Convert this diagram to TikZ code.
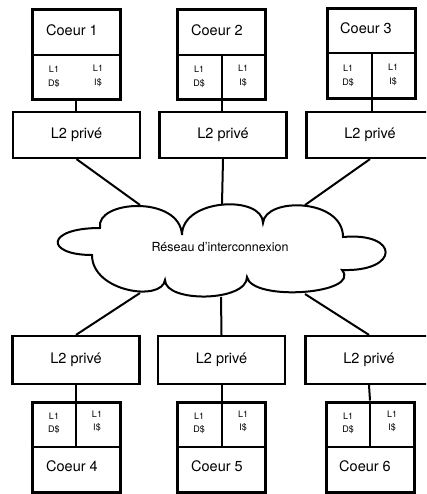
\documentclass[tikz,border=0pt]{standalone}
\usepackage{fontspec}
\setmainfont{TeX Gyre Heros}
\begin{document}
\begin{tikzpicture}[x=1pt,y=-1pt,
  core/.style={draw, line width=3pt, minimum width=88pt, minimum height=90pt, inner sep=0pt},
  l2box/.style={draw, line width=2.2pt, minimum width=127pt, minimum height=46pt, inner sep=0pt, font=\fontsize{14.5}{16}\selectfont},
  lab/.style={inner sep=0pt, font=\fontsize{14.5}{16}\selectfont},
  small/.style={inner sep=0pt, font=\fontsize{9}{10}\selectfont},
  netlab/.style={inner sep=0pt, font=\fontsize{12.5}{14}\selectfont},
  link/.style={line width=2pt},
  divline/.style={line width=2pt},
  cloudline/.style={line width=2pt, fill=white}]
\clip (0,0) rectangle (426,494);

% ---------- top cores ----------
\node[core] (c1) at (76,55) {};
\node[core] (c2) at (221.5,55) {};
\node[core] (c3) at (371,54) {};
\draw[divline] (c1.west |- 0,55) -- (c1.east |- 0,55);
\draw[divline] (c2.west |- 0,55) -- (c2.east |- 0,55);
\draw[divline] (c3.west |- 0,53) -- (c3.east |- 0,53);
\draw[divline] (222,55) -- (222,100);
\draw[divline] (372,53) -- (372,99);

\node[lab] (t1) at (72,30) {Coeur 1};
\node[lab] (t2) at (217,30) {Coeur 2};
\node[lab] (t3) at (366,28) {Coeur 3};

\node[small] (c1dl) at (54,69) {L1};
\node[small] (c1dd) at (54,84) {D\$};
\node[small] (c1il) at (98,68) {L1};
\node[small] (c1ii) at (98,83) {I\$};
\node[small] (c2dl) at (199,69) {L1};
\node[small] (c2dd) at (199,84) {D\$};
\node[small] (c2il) at (243,68) {L1};
\node[small] (c2ii) at (243,83) {I\$};
\node[small] (c3dl) at (348,68) {L1};
\node[small] (c3dd) at (348,83) {D\$};
\node[small] (c3il) at (393,67) {L1};
\node[small] (c3ii) at (393,82) {I\$};

% ---------- top L2 ----------
\node[l2box] (l2a) at (76.5,135) {L2 privé};
\node[l2box] (l2b) at (223,135) {L2 privé};
\node[l2box] (l2c) at (370,135) {L2 privé};

\draw[link] (c1.south) -- (c1.south |- l2a.north);
\draw[link] (222,100) -- (222,112);
\draw[link] (372,99) -- (372,112);

% ---------- bottom L2 ----------
\node[l2box, minimum height=48pt] (l2d) at (76,360) {L2 privé};
\node[l2box, minimum height=48pt] (l2e) at (221.5,360) {L2 privé};
\node[l2box, minimum height=48pt] (l2f) at (369,360) {L2 privé};

% ---------- bottom cores ----------
\node[core] (c4) at (76,447) {};
\node[core] (c5) at (221.5,447) {};
\node[core, minimum width=88pt] (c6) at (370,447) {};
\draw[divline] (c4.west |- 0,447) -- (c4.east |- 0,447);
\draw[divline] (c5.west |- 0,447) -- (c5.east |- 0,447);
\draw[divline] (c6.west |- 0,447) -- (c6.east |- 0,447);
\draw[divline] (c4.north) -- (76,447);
\draw[divline] (c5.north) -- (221.5,447);
\draw[divline] (c6.north) -- (370,447);

\draw[link] (l2d.south) -- (c4.north);
\draw[link] (l2e.south) -- (c5.north);
\draw[link] (l2f.south) -- (c6.north);

\node[lab] (t4) at (72,466) {Coeur 4};
\node[lab] (t5) at (217,466) {Coeur 5};
\node[lab] (t6) at (365,466) {Coeur 6};

\node[small] (c4dl) at (54,416) {L1};
\node[small] (c4dd) at (54,430) {D\$};
\node[small] (c4il) at (97,414) {L1};
\node[small] (c4ii) at (97,428) {I\$};
\node[small] (c5dl) at (199,416) {L1};
\node[small] (c5dd) at (199,430) {D\$};
\node[small] (c5il) at (243,414) {L1};
\node[small] (c5ii) at (243,428) {I\$};
\node[small] (c6dl) at (348,416) {L1};
\node[small] (c6dd) at (348,430) {D\$};
\node[small] (c6il) at (392,414) {L1};
\node[small] (c6ii) at (392,428) {I\$};

% ---------- cloud ----------
\coordinate (ctl) at (140,205);
\coordinate (ctm) at (222,204);
\coordinate (ctr) at (305,205);
\coordinate (cbl) at (140,293);
\coordinate (cbm) at (221,297);
\coordinate (cbr) at (305,294);

\draw[link] (l2a.south) -- (ctl);
\draw[link] (l2b.south) -- (ctm);
\draw[link] (l2c.south) -- (ctr);
\draw[link] (cbl) -- (l2d.north);
\draw[link] (cbm) -- (l2e.north);
\draw[link] (cbr) -- (l2f.north);

\draw[cloudline] (100,228)
  .. controls (95,200) and (180,195) .. (182,235)
  .. controls (182,198) and (263,195) .. (263,223)
  .. controls (265,197) and (343,198) .. (343,237)
  .. controls (400,232) and (400,272) .. (342,270)
  .. controls (362,294) and (252,302) .. (247,277)
  .. controls (247,302) and (165,303) .. (165,280)
  .. controls (162,302) and (92,292) .. (92,255)
  .. controls (45,255) and (45,228) .. (100,228) -- cycle;

\node[netlab] (net) at (220,247) {Réseau d’interconnexion};
\end{tikzpicture}
\end{document}
